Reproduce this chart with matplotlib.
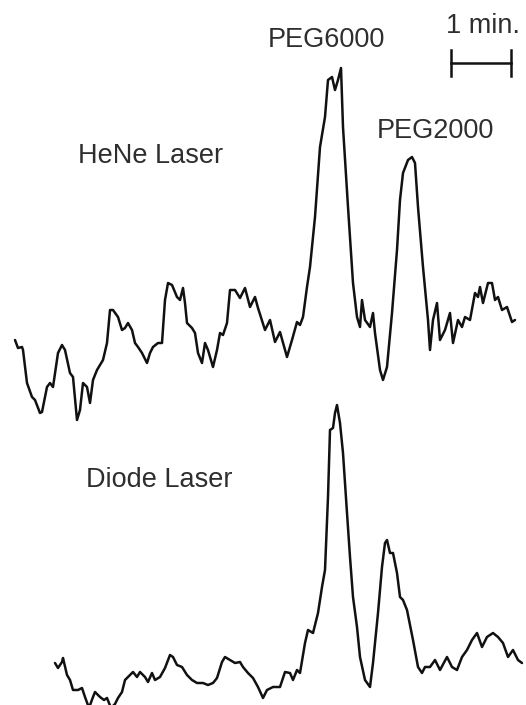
import matplotlib
matplotlib.use('Agg')
import matplotlib.pyplot as plt
import numpy as np

# detector traces: time in seconds, signal in arbitrary units
hene_t = [0, 3, 7, 8, 12, 17, 20, 25, 27, 32, 35, 38, 43, 47, 50, 55, 58, 62, 65, 68,
          72, 75, 78, 82, 85, 88, 92, 95, 98, 103, 107, 110, 113, 117, 120, 123, 127, 132, 135, 138,
          143, 147, 150, 153, 157, 162, 165, 168, 170, 172, 177, 180, 183, 187, 190, 193, 198, 202, 205, 208,
          212, 215, 220, 225, 230, 235, 240, 243, 250, 255, 260, 265, 272, 277, 282, 285, 288, 292, 295, 300,
          305, 310, 313, 317, 320, 323, 326, 328, 333, 338, 342, 345, 347, 350, 355, 358, 360, 365, 368, 372,
          377, 382, 385, 388, 393, 397, 400, 403, 408, 413, 415, 418, 422, 425, 430, 435, 438, 443, 447, 450,
          455, 460, 463, 465, 468, 473, 477, 480, 483, 487, 492, 497, 500]
hene_sig = [80, 72, 73, 70, 37, 23, 20, 7, 8, 33, 37, 33, 67, 75, 70, 47, 43, 0, 10, 37,
            33, 17, 40, 50, 55, 60, 77, 110, 110, 103, 90, 92, 97, 90, 77, 73, 67, 57, 67, 73,
            77, 77, 120, 137, 135, 123, 120, 132, 117, 97, 92, 87, 67, 57, 77, 70, 53, 70, 87, 85,
            97, 130, 130, 122, 132, 113, 123, 112, 90, 100, 78, 88, 63, 80, 98, 95, 103, 133, 153, 203,
            273, 303, 340, 343, 330, 340, 352, 293, 213, 137, 103, 93, 120, 100, 93, 107, 87, 50, 40, 53,
            107, 170, 220, 247, 260, 263, 257, 213, 153, 100, 70, 100, 117, 80, 90, 107, 77, 100, 93, 103,
            100, 127, 123, 133, 117, 137, 137, 120, 123, 110, 113, 98, 100]

diode_t = [40, 43, 47, 48, 52, 55, 58, 63, 67, 70, 74, 78, 80, 85, 89, 92, 96, 100, 103, 107,
           110, 115, 118, 122, 125, 130, 133, 137, 140, 145, 150, 155, 158, 162, 167, 172, 177, 182, 188, 193,
           198, 202, 207, 210, 215, 220, 225, 228, 233, 238, 243, 248, 252, 258, 265, 270, 275, 278, 282, 285,
           290, 293, 298, 303, 307, 310, 313, 315, 318, 320, 322, 325, 328, 332, 335, 338, 342, 345, 350, 355,
           358, 363, 367, 370, 372, 375, 378, 382, 385, 388, 392, 398, 403, 407, 410, 415, 420, 425, 432, 437,
           442, 447, 452, 457, 462, 467, 472, 478, 483, 488, 493, 498, 503, 507]
diode_sig = [47, 42, 48, 52, 35, 30, 20, 20, 22, 13, 2, 13, 18, 13, 10, 12, 2, 6, 12, 18,
             30, 35, 38, 33, 38, 33, 28, 37, 30, 33, 42, 55, 53, 45, 43, 35, 30, 27, 27, 25,
             27, 32, 48, 53, 50, 47, 48, 43, 37, 32, 23, 12, 20, 23, 23, 38, 37, 30, 40, 37,
             67, 80, 77, 97, 123, 140, 213, 280, 282, 297, 305, 287, 257, 197, 153, 113, 83, 53, 30, 23,
             47, 97, 143, 167, 170, 157, 157, 137, 113, 110, 100, 70, 43, 37, 43, 43, 50, 40, 53, 43,
             40, 53, 60, 70, 77, 63, 73, 77, 73, 67, 53, 60, 50, 47]

W, H = 526, 705
fig = plt.figure(figsize=(W / 100, H / 100), dpi=100)
ax = fig.add_axes([0, 0, 1, 1])
ax.set_xlim(-15, W - 15)
ax.set_ylim(0, H)
ax.axis('off')

ink = '#111111'
ax.plot(hene_t, np.array(hene_sig) + 285, color=ink, lw=1.8,
        solid_joinstyle='round', solid_capstyle='round')
ax.plot(diode_t, np.array(diode_sig) - 5, color=ink, lw=1.8,
        solid_joinstyle='round', solid_capstyle='round')

# 1 minute scale bar
ax.plot([436, 496], [642, 642], color=ink, lw=1.8)
ax.plot([436, 436], [629, 655], color=ink, lw=1.8)
ax.plot([496, 496], [629, 655], color=ink, lw=1.8)

def label(x, y, s):
    fig.text(x / W, 1 - y / H, s, fontsize=19.5, family='Liberation Sans',
             color='#2e2e2e', va='baseline', ha='left')

label(268, 47, 'PEG6000')
label(446, 33, '1 min.')
label(377, 138, 'PEG2000')
label(78, 163, 'HeNe Laser')
label(86, 487, 'Diode Laser')

fig.savefig('out.png', dpi=100, facecolor='white')
